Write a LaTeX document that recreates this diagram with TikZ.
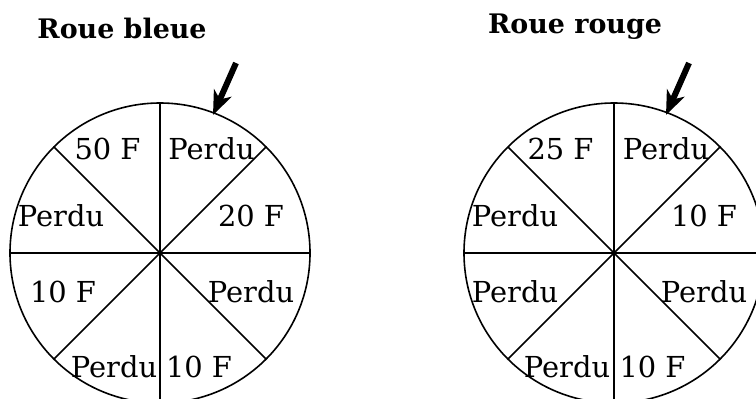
\documentclass[tikz,border=0pt]{standalone}
\usepackage{fontspec}
\setmainfont{DejaVu Serif}
\usetikzlibrary{arrows.meta}
\begin{document}
\begin{tikzpicture}[x=1bp,y=-1bp,
  wheel/.style={line width=1.6bp},
  lbl/.style={anchor=base,inner sep=0pt,font=\fontsize{29}{34}\selectfont},
  ttl/.style={anchor=base,inner sep=0pt,font=\fontsize{27}{32}\selectfont\bfseries},
  pointer/.style={line width=6bp,-{Stealth[length=24bp,width=19bp,inset=7bp]}}]
\useasboundingbox (0,0) rectangle (756,398);
\clip (0,0) rectangle (756,398);
\fill[white] (0,0) rectangle (756,398);
% titles
\node[ttl] (t1) at (122,38) {Roue bleue};
\node[ttl] (t2) at (575,33) {Roue rouge};
% wheels
\foreach \cx/\nm in {160/b,614/r}{
  \coordinate (c\nm) at (\cx,253);
  \draw[wheel] (c\nm) circle[radius=150];
  \foreach \a in {0,45,...,315}
    \draw[wheel] (c\nm) -- ++({150*cos(\a)},{150*sin(\a)});
  \fill (c\nm) circle[radius=1.8];
}
% blue wheel labels
\node[lbl] (b1) at (107.5,159) {50 F};
\node[lbl] (b2) at (211.5,159) {Perdu};
\node[lbl] (b3) at (61,226) {Perdu};
\node[lbl] (b4) at (251,226) {20 F};
\node[lbl] (b5) at (63,302) {10 F};
\node[lbl] (b6) at (251,302) {Perdu};
\node[lbl] (b7) at (114,377) {Perdu};
\node[lbl] (b8) at (199,377) {10 F};
% red wheel labels
\node[lbl] (r1) at (560.5,159) {25 F};
\node[lbl] (r2) at (666,159) {Perdu};
\node[lbl] (r3) at (515,226) {Perdu};
\node[lbl] (r4) at (704,226) {10 F};
\node[lbl] (r5) at (515,302) {Perdu};
\node[lbl] (r6) at (704,302) {Perdu};
\node[lbl] (r7) at (567,377) {Perdu};
\node[lbl] (r8) at (652.5,377) {10 F};
% pointers
\coordinate (pb0) at (236,63);
\coordinate (pb1) at (213,115);
\coordinate (pr0) at (689,63);
\coordinate (pr1) at (666,115);
\draw[pointer] (pb0) -- (pb1);
\draw[pointer] (pr0) -- (pr1);
\end{tikzpicture}
\end{document}
